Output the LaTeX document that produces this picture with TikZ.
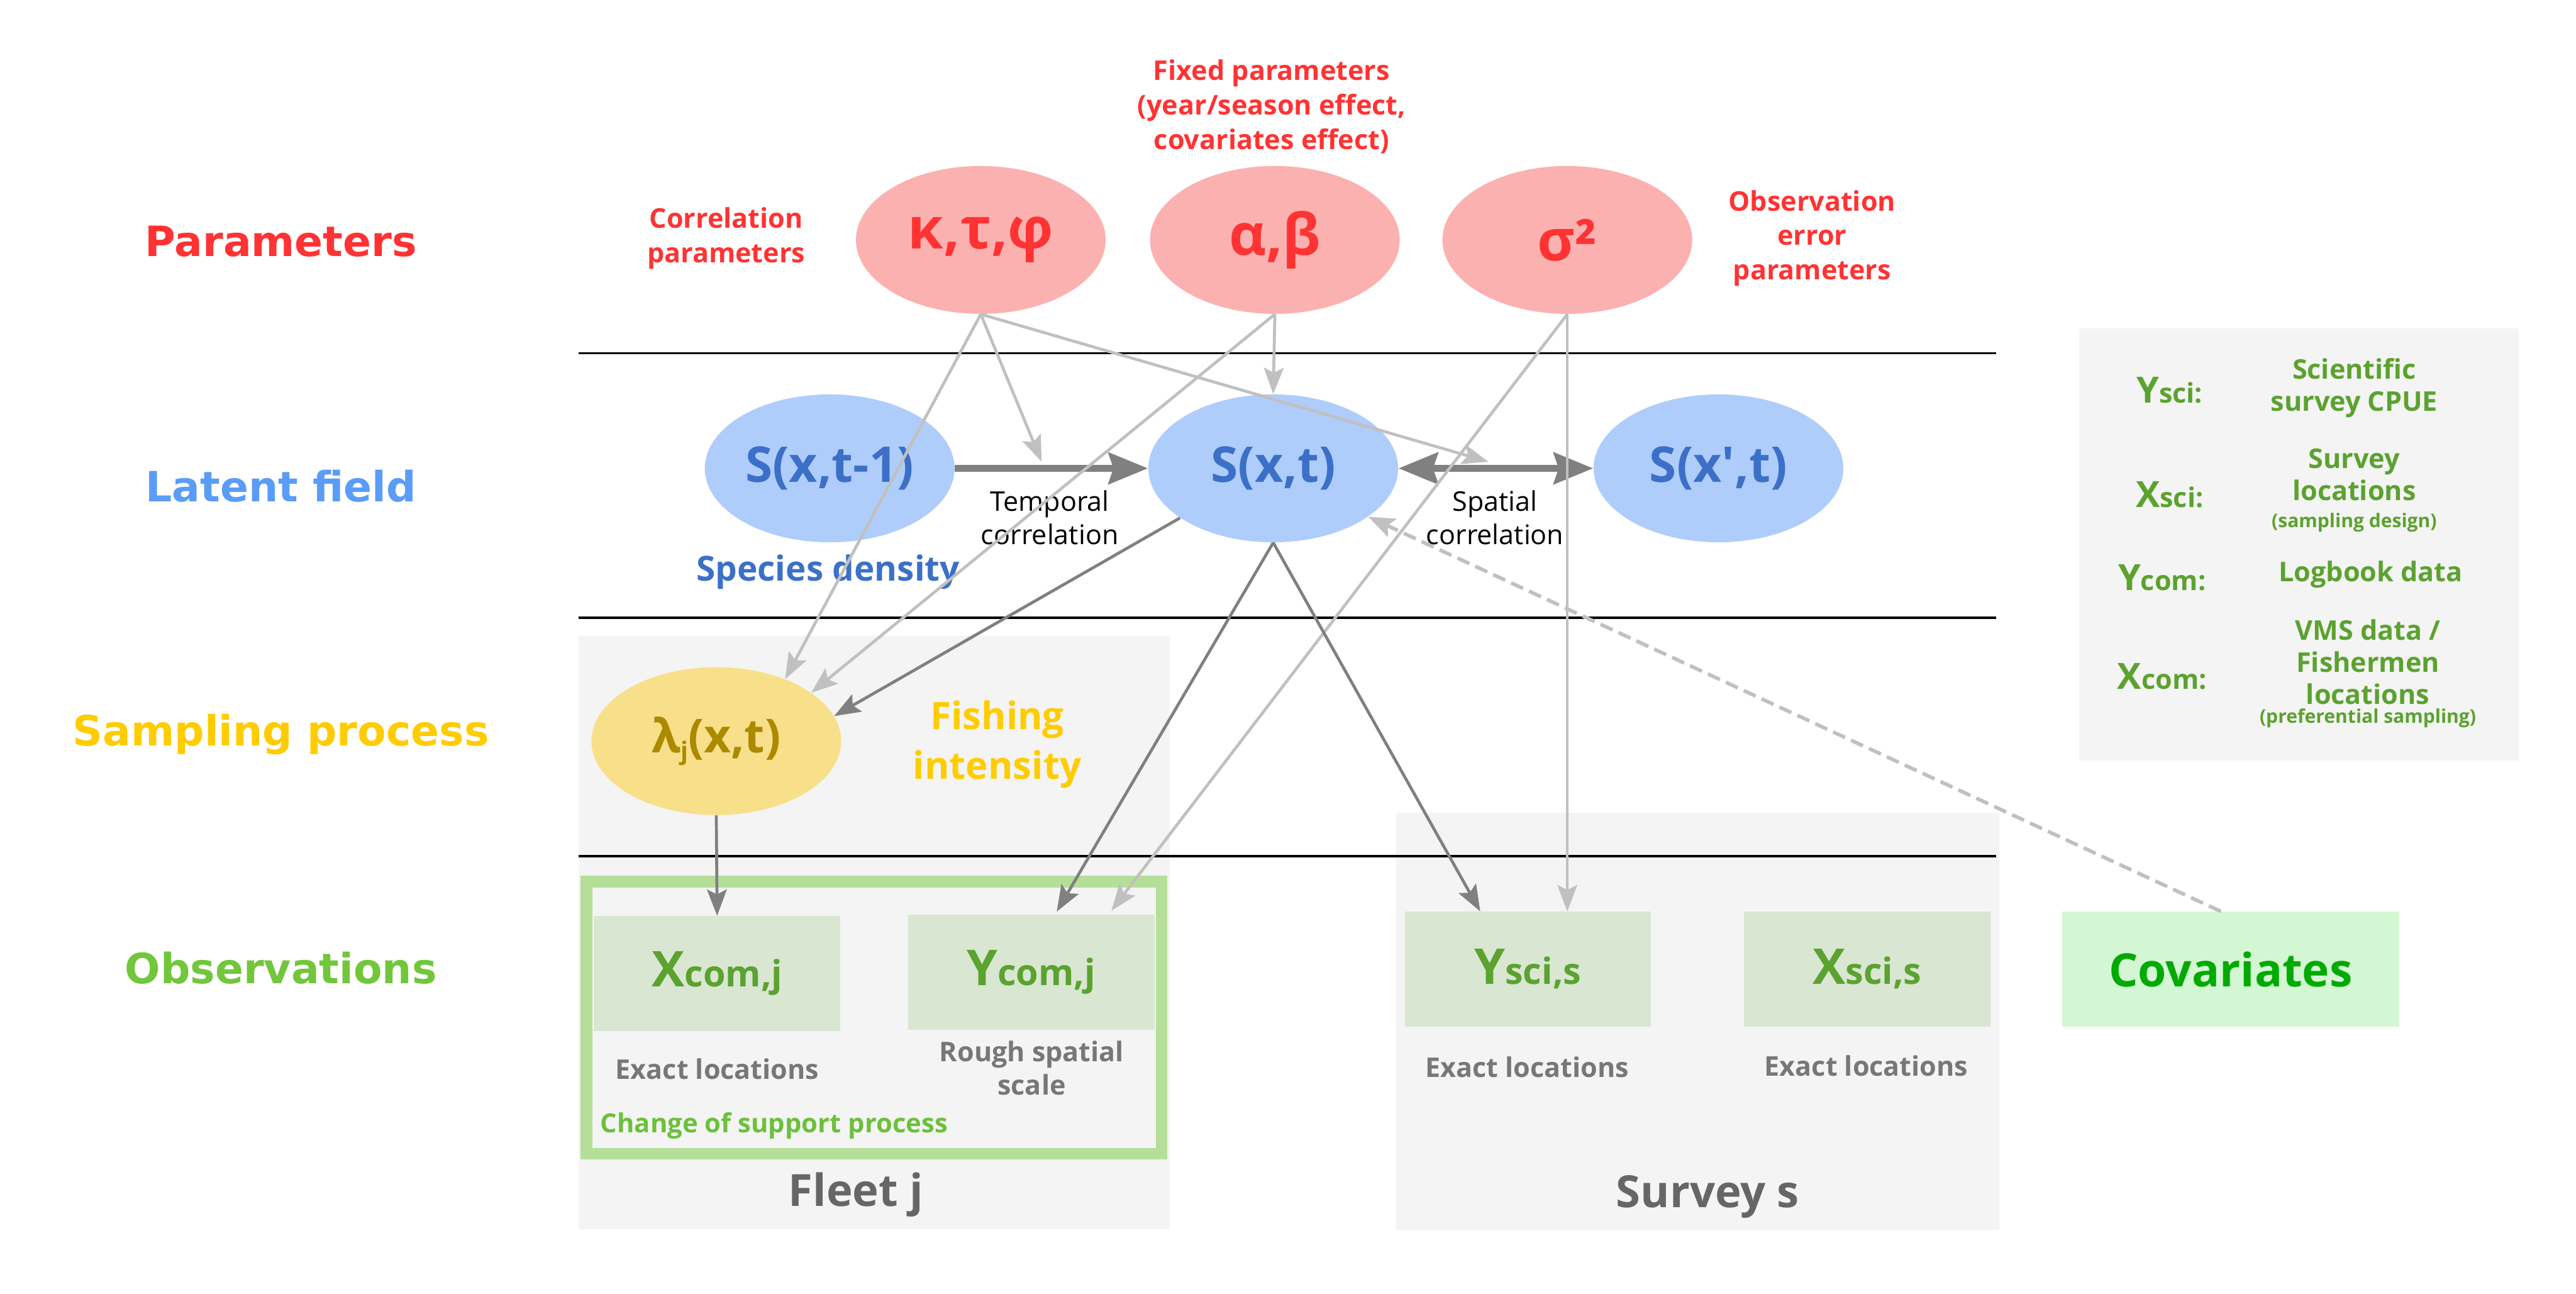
\documentclass[tikz,border=0pt]{standalone}
\usepackage{fontspec}
\setmainfont{Open Sans}
\newfontfamily\dvs{DejaVu Sans}
\newfontfamily\osnt{Open Sans}[Ligatures=TeXOff]
\usetikzlibrary{shapes.geometric,arrows.meta,calc}
\newcommand{\fsz}[2]{\fontsize{#1}{#2}\selectfont}
\definecolor{cRed}{HTML}{FF3333}
\definecolor{cBlue}{HTML}{5A9CF8}
\definecolor{cYel}{HTML}{FFCC00}
\definecolor{cGrn}{HTML}{72C63B}
\definecolor{parfill}{HTML}{FCB1B1}
\definecolor{latfill}{HTML}{AFCDFB}
\definecolor{lattext}{HTML}{3C70C8}
\definecolor{lamfill}{HTML}{F8E08A}
\definecolor{lamtext}{HTML}{AB8A00}
\definecolor{obsfill}{HTML}{D9E6D2}
\definecolor{obstext}{HTML}{5BA22F}
\definecolor{covfill}{HTML}{D3F7D3}
\definecolor{covtext}{HTML}{00AA00}
\definecolor{panel}{HTML}{F4F4F4}
\definecolor{framegreen}{HTML}{B5DF98}
\definecolor{supgreen}{HTML}{6CC03B}
\definecolor{greytext}{HTML}{777777}
\definecolor{fleettext}{HTML}{666666}
\definecolor{darkline}{HTML}{808080}
\definecolor{lightline}{HTML}{C0C0C0}
\tikzset{
  lbl/.style={font=\dvs\bfseries\fsz{25.4}{30}},
  par/.style={ellipse, fill=parfill, minimum width=152, minimum height=90, inner sep=0, text=cRed, font=\bfseries\fsz{35}{40}},
  lat/.style={ellipse, fill=latfill, minimum width=152, minimum height=90, inner sep=0, text=lattext, font=\bfseries\fsz{30}{35}},
  lamst/.style={ellipse, fill=lamfill, minimum width=152, minimum height=90, inner sep=0, text=lamtext, font=\bfseries\fsz{28.5}{34}},
  obs/.style={rectangle, fill=obsfill, minimum width=150, minimum height=70, inner sep=0, text=obstext, font=\bfseries\fsz{30}{36}},
  cov/.style={rectangle, fill=covfill, minimum width=205, minimum height=70, inner sep=0, text=covtext, font=\bfseries\fsz{28}{34}},
  rednote/.style={align=center, text=cRed, font=\bfseries\fsz{16.5}{21}},
  blknote/.style={align=center, text=black, font=\fsz{16.5}{20.5}},
  greynote/.style={align=center, text=greytext, font=\bfseries\fsz{16.5}{20.5}},
  legk/.style={text=obstext, font=\bfseries\fsz{22}{26}},
  legv/.style={align=center, text=obstext, font=\bfseries\fsz{16.5}{19.5}},
  sepline/.style={draw=black, line width=1.4},
  darrow/.style={draw=darkline, line width=1.8, -{Stealth[length=16pt,width=12pt,inset=3pt]}},
  larrow/.style={draw=lightline, line width=1.8, -{Stealth[length=16pt,width=12pt,inset=3pt]}},
  bigarrow/.style={draw=darkline, line width=4.5, -{Stealth[length=24pt,width=19pt,inset=3pt]}},
}
\begin{document}
\begin{tikzpicture}[x=1pt,y=-1pt]
\path[use as bounding box] (0,0) rectangle (1568,787.4);
% panels
\fill[panel] (352,387) rectangle (712,748);
\fill[panel] (850,494.5) rectangle (1217,748.5);
\fill[panel] (1265.5,200) rectangle (1533,462.7);
% separators
\draw[sepline] (352,215) -- (1215,215);
\draw[sepline] (352,376) -- (1215,376);
\draw[sepline] (352,521) -- (1215,521);
% row labels
\node[lbl, text=cRed] (lP) at (171,147) {Parameters};
\node[lbl, text=cBlue] (lL) at (171,296) {Latent field};
\node[lbl, text=cYel] (lS) at (171,447) {Sampling process};
\node[lbl, text=cGrn] (lO) at (171,589) {Observations};
% parameters
\node[par] (ktp) at (597,146) {κ,τ,φ};
\node[par] (ab) at (776,146) {α,β};
\node[par] (sig) at (954,146) {σ²};
\node[rednote] (ncorr) at (442,145) {Correlation\\parameters};
\node[rednote] (nfix) at (774,65) {Fixed parameters\\(year/season effect,\\covariates effect)};
\node[rednote] (nobs) at (1103,145) {Observation\\error\\parameters};
% latent field
\node[lat] (s1) at (505,285) {S(x,t-1)};
\node[lat] (s) at (775,285) {S(x,t)};
\node[lat] (s2) at (1046,285) {S(x{\osnt '},t)};
\node[text=lattext, font=\bfseries\fsz{21}{25}] (nsd) at (504,348) {Species density};
\node[blknote] (ntemp) at (639,315) {Temporal\\correlation};
\node[blknote] (nspat) at (910,315) {Spatial\\correlation};
% sampling
\node[lamst] (lam) at (436,451) {λ\raisebox{-4pt}{\fsz{15}{18}j}(x,t)};
\node[align=center, text=cYel, font=\bfseries\fsz{23}{30}] (nfish) at (607,453) {Fishing\\intensity};
% observations
\draw[framegreen, line width=7] (357,536.5) rectangle (707,702);
\node[obs] (xcom) at (436.5,592.5) {X\fsz{22}{26}com,j};
\node[obs] (ycom) at (627.7,591.7) {Y\fsz{22}{26}com,j};
\node[obs] (ysci) at (930,589.8) {Y\fsz{22}{26}sci,s};
\node[obs] (xsci) at (1136.5,589.8) {X\fsz{22}{26}sci,s};
\node[cov] (cov) at (1357.8,589.8) {Covariates};
\node[greynote] (ex1) at (436.6,650.7) {Exact locations};
\node[greynote] (rough) at (628,650) {Rough spatial\\scale};
\node[greynote] (ex2) at (929.6,649.4) {Exact locations};
\node[greynote] (ex3) at (1136,648.5) {Exact locations};
\node[anchor=west, text=supgreen, font=\bfseries\fsz{16}{20}] (nsup) at (362,685) {Change of support process};
\node[text=fleettext, font=\bfseries\fsz{27}{32}] (fleet) at (521,727) {Fleet j};
\node[text=fleettext, font=\bfseries\fsz{27}{32}] (survey) at (1039.5,728.3) {Survey s};
% legend
\node[legk] (k1) at (1320.6,237.5) {Y\fsz{16.5}{20}sci:};
\node[legv] (v1) at (1433,236) {Scientific\\survey CPUE};
\node[legk] (k2) at (1320.6,301) {X\fsz{16.5}{20}sci:};
\node[legv] (v2) at (1433,289) {Survey\\locations};
\node[legv, font=\bfseries\fsz{11.5}{14}] (v2b) at (1433,318) {(sampling design)};
\node[legk] (k3) at (1316,351.4) {Y\fsz{16.5}{20}com:};
\node[legv] (v3) at (1443,349.6) {Logbook data};
\node[legk] (k4) at (1316,411.8) {X\fsz{16.5}{20}com:};
\node[legv] (v4) at (1441.3,403) {VMS data /\\Fishermen\\locations};
\node[legv, font=\bfseries\fsz{11.5}{14}] (v4b) at (1441.3,437.2) {(preferential sampling)};
% connector anchors
\coordinate (tp) at (634,281);
\coordinate (sp) at (906,281);
% thick arrows
\draw[bigarrow] (s1) -- (s);
\draw[bigarrow, {Stealth[length=24pt,width=19pt,inset=3pt]}-{Stealth[length=24pt,width=19pt,inset=3pt]}] (s) -- (s2);
% light arrows
\draw[larrow] (ktp.south) -- (lam.42);
\draw[larrow] (ktp.south) -- (tp);
\draw[larrow] (ktp.south) -- (sp);
\draw[larrow] (ab.south) -- (s.north);
\draw[larrow] (ab.south) -- (lam.27);
\draw[larrow, shorten >=3pt] (sig.south) -- ($(ycom.north)+(47,0)$);
\draw[larrow] (sig.south) -- ($(ysci.north)+(24,0)$);
\draw[larrow, dash pattern=on 8pt off 4pt, line width=2.2] ($(cov.north)+(-6,0)$) -- (s.-27);
% dark arrows
\draw[darrow] (s.208) -- (lam.12);
\draw[darrow, shorten >=2pt] (s.south) -- ($(ycom.north)+(14.5,0)$);
\draw[darrow] (s.south) -- ($(ysci.north)+(-29,0)$);
\draw[darrow] (lam.south) -- (xcom.north);
\end{tikzpicture}
\end{document}
